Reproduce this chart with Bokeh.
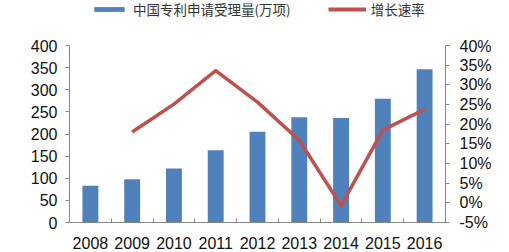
from bokeh.plotting import figure
from bokeh.layouts import column
from bokeh.models import (Range1d, LinearAxis, FixedTicker, PrintfTickFormatter,
                          Legend, LegendItem, ColumnDataSource)
from bokeh.embed import file_html
from bokeh.resources import INLINE

years = ["2008", "2009", "2010", "2011", "2012", "2013", "2014", "2015", "2016"]
applications = [82.8, 97.7, 122.2, 163.3, 205.1, 237.7, 236.1, 279.9, 346.5]
growth_years = ["2009", "2010", "2011", "2012", "2013", "2014", "2015", "2016"]
growth = [18.0, 25.1, 33.6, 25.6, 15.9, -0.7, 18.5, 23.8]
left_ticks = [0, 50, 100, 150, 200, 250, 300, 350, 400]
right_ticks = [-5, 0, 5, 10, 15, 20, 25, 30, 35, 40]
series_names = ["中国专利申请受理量(万项)", "增长速率"]

BLUE = "#4F81BD"
RED = "#C0504D"

xpos = [i + 0.5 for i in range(len(years))]
gpos = [years.index(y) + 0.5 for y in growth_years]

p = figure(width=509, height=215, output_backend="svg", toolbar_location=None,
           x_range=Range1d(0, len(years)), y_range=Range1d(0, 400),
           min_border_left=69, min_border_right=64, min_border_top=8,
           min_border_bottom=30)
p.outline_line_color = None
p.xgrid.visible = False
p.ygrid.visible = False

p.extra_y_ranges = {"pct": Range1d(-5, 40)}

src = ColumnDataSource(dict(x=xpos, top=applications))
bars = p.vbar(x="x", top="top", width=0.38, bottom=0, source=src,
              fill_color=BLUE, line_color=None)
lsrc = ColumnDataSource(dict(x=gpos, y=growth))
line = p.line(x="x", y="y", source=lsrc, y_range_name="pct",
              line_color=RED, line_width=3.5, line_join="round")

font = "Liberation Sans"
axcol = "#898989"

xa = p.xaxis[0]
xa.ticker = FixedTicker(ticks=xpos, minor_ticks=list(range(0, len(years) + 1)))
xa.major_label_overrides = {x: y for x, y in zip(xpos, years)}
xa.major_tick_line_color = None
xa.minor_tick_in = 4
xa.minor_tick_out = 0
xa.minor_tick_line_color = axcol
xa.axis_line_color = axcol
xa.major_label_text_font = font
xa.major_label_text_font_size = "16px"
xa.major_label_text_color = "#111111"
xa.major_label_standoff = 8

ya = p.yaxis[0]
ya.ticker = FixedTicker(ticks=left_ticks)
ya.major_tick_in = 0
ya.major_tick_out = 4
ya.minor_tick_line_color = None
ya.axis_line_color = axcol
ya.major_tick_line_color = axcol
ya.major_label_text_font = font
ya.major_label_text_font_size = "16px"
ya.major_label_text_color = "#111111"
ya.major_label_standoff = 8

ra = LinearAxis(y_range_name="pct", ticker=FixedTicker(ticks=right_ticks),
                formatter=PrintfTickFormatter(format="%d%%"))
ra.major_tick_in = 0
ra.major_tick_out = 4
ra.minor_tick_line_color = None
ra.axis_line_color = axcol
ra.major_tick_line_color = axcol
ra.major_label_text_font = font
ra.major_label_text_font_size = "16px"
ra.major_label_text_color = "#111111"
ra.major_label_standoff = 10
p.add_layout(ra, "right")

# legend strip on top (its frame is aligned with the main plot's frame)
lf = figure(width=509, height=37, output_backend="svg", toolbar_location=None,
            x_range=Range1d(100, 101), y_range=Range1d(1000, 1001),
            min_border_left=69, min_border_right=64, min_border_top=0,
            min_border_bottom=0, x_axis_type=None, y_axis_type=None)
lf.outline_line_color = None
lf.xgrid.visible = False
lf.ygrid.visible = False
lb = lf.vbar(x=xpos, top=applications, width=0.38, fill_color=BLUE, line_color=None)
ll = lf.line(x=gpos, y=growth, line_color=RED, line_width=4)

legend = Legend(items=[LegendItem(label=series_names[0], renderers=[lb]),
                       LegendItem(label=series_names[1], renderers=[ll])],
                orientation="horizontal", location=(21, 18),
                label_text_font="Noto Sans CJK SC", label_text_font_size="13.5px",
                label_text_color="#333333", glyph_width=38, glyph_height=6,
                spacing=37, padding=0, margin=0, border_line_color=None,
                background_fill_alpha=0, label_standoff=5)
lf.add_layout(legend)

layout = column(lf, p, spacing=0)
open("out.html", "w").write(file_html(layout, INLINE))
